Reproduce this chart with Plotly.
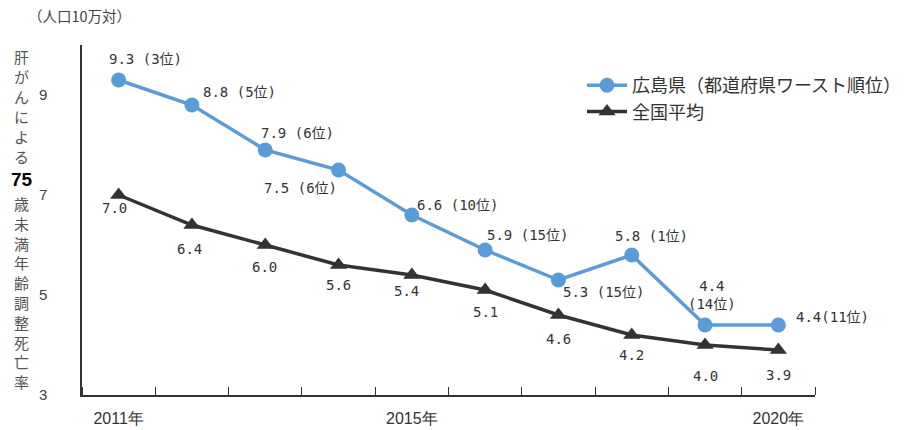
import plotly.graph_objects as go

years = [2011, 2012, 2013, 2014, 2015, 2016, 2017, 2018, 2019, 2020]
hiroshima = [9.3, 8.8, 7.9, 7.5, 6.6, 5.9, 5.3, 5.8, 4.4, 4.4]
national = [7.0, 6.4, 6.0, 5.6, 5.4, 5.1, 4.6, 4.2, 4.0, 3.9]
hiroshima_labels = ["9.3 (3位)", "8.8 (5位)", "7.9 (6位)", "7.5 (6位)", "6.6 (10位)",
                    "5.9 (15位)", "5.3 (15位)", "5.8 (1位)", "4.4<br>(14位)", "4.4(11位)"]
national_labels = ["7.0", "6.4", "6.0", "5.6", "5.4", "5.1", "4.6", "4.2", "4.0", "3.9"]
x_tick_vals = [2011, 2015, 2020]
x_tick_text = ["2011年", "2015年", "2020年"]
y_tick_vals = [3, 5, 7, 9]
series_names = ["広島県（都道府県ワースト順位）", "全国平均"]
y_title_top = "肝がんによる"
y_title_num = "75"
y_title_bottom = "歳未満年齢調整死亡率"
unit_text = "（人口10万対）"

# label offsets in pixels (xshift, yshift)
h_off = [(27, 21), (48, 13), (32, 17), (-38, -18), (46, 10), (42, 15), (45, -12), (20, 19), (7, 30), (54, 8)]
n_off = [(-4, -13), (-2, -24), (-1, -22), (0, -20), (-5, -16), (0, -22), (0, -24), (0, -20), (0, -31), (0, -25)]

FONT = "Noto Sans CJK JP"
LABEL_FONT = "DejaVu Sans Mono, Noto Sans CJK JP"
BLUE = "#5a9bd8"
DARK = "#333333"

L, R, T, B = 82, 105, 45, 35
W, H = 920, 430
PW, PH = W - L - R, H - T - B

def px_x(px):
    return (px - L) / PW

def px_y(py):
    return (H - B - py) / PH

fig = go.Figure()
fig.add_trace(go.Scatter(
    x=years, y=hiroshima, name=series_names[0], mode="lines+markers",
    line=dict(color=BLUE, width=3.5), marker=dict(symbol="circle", size=15, color=BLUE)))
fig.add_trace(go.Scatter(
    x=years, y=national, name=series_names[1], mode="lines+markers",
    line=dict(color=DARK, width=3.5), marker=dict(symbol="triangle-up", size=15, color=DARK)))

ann = []
for x, y, t, (dx, dy) in zip(years, hiroshima, hiroshima_labels, h_off):
    ann.append(dict(x=x, y=y, text=t, showarrow=False, xshift=dx, yshift=dy,
                    xanchor="center", yanchor="middle",
                    font=dict(family=LABEL_FONT, size=14, color=DARK)))
for x, y, t, (dx, dy) in zip(years, national, national_labels, n_off):
    ann.append(dict(x=x, y=y, text=t, showarrow=False, xshift=dx, yshift=dy,
                    xanchor="center", yanchor="middle",
                    font=dict(family=LABEL_FONT, size=14, color=DARK)))

# vertical y-axis title, one character per row
cy = 56
for ch in y_title_top:
    ann.append(dict(xref="paper", yref="paper", x=px_x(22), y=px_y(cy), text=ch, showarrow=False,
                    xanchor="center", yanchor="middle", height=18, borderpad=0,
                    font=dict(family=FONT, size=15, color="#555555")))
    cy += 20
ann.append(dict(xref="paper", yref="paper", x=px_x(22), y=px_y(179), text="<b>" + y_title_num + "</b>",
                showarrow=False, xanchor="center", yanchor="middle",
                font=dict(family="Liberation Sans Narrow, Liberation Sans", size=19, color="#000000")))
cy = 203
for ch in y_title_bottom:
    ann.append(dict(xref="paper", yref="paper", x=px_x(22), y=px_y(cy), text=ch, showarrow=False,
                    xanchor="center", yanchor="middle", height=18, borderpad=0,
                    font=dict(family=FONT, size=15, color="#555555")))
    cy += 19.8

ann.append(dict(xref="paper", yref="paper", x=px_x(26), y=px_y(15), xanchor="left", yanchor="middle",
                text=unit_text, showarrow=False, font=dict(family=FONT, size=14.5, color="#444444")))

fig.update_layout(
    width=W, height=H, margin=dict(l=L, r=R, t=T, b=B, autoexpand=False),
    paper_bgcolor="white", plot_bgcolor="white",
    showlegend=True,
    legend=dict(x=px_x(582), y=px_y(67), xanchor="left", yanchor="top",
                font=dict(family=FONT, size=18, color=DARK), tracegroupgap=0,
                itemwidth=40, bgcolor="rgba(0,0,0,0)"),
    annotations=ann,
    xaxis=dict(range=[2010.5, 2020.5], tickvals=x_tick_vals, ticktext=x_tick_text,
               ticks="", showgrid=False, zeroline=False, showline=True, linecolor="#333333", linewidth=1.5,
               tickfont=dict(family="Liberation Sans Narrow, Liberation Sans", size=16, color=DARK),
               ticklabelstandoff=8,
               minor=dict(tick0=2010.5, dtick=1, ticks="inside", ticklen=8, tickcolor="#333333", tickwidth=1, showgrid=False)),
    yaxis=dict(range=[3, 10], tickvals=y_tick_vals, ticks="", showgrid=False, zeroline=False,
               showline=True, linecolor="#333333", linewidth=1.5,
               tickfont=dict(family="Liberation Sans Narrow, Liberation Sans", size=15, color="#444444"),
               ticklabelstandoff=30),
)
fig.write_html("out.html")
